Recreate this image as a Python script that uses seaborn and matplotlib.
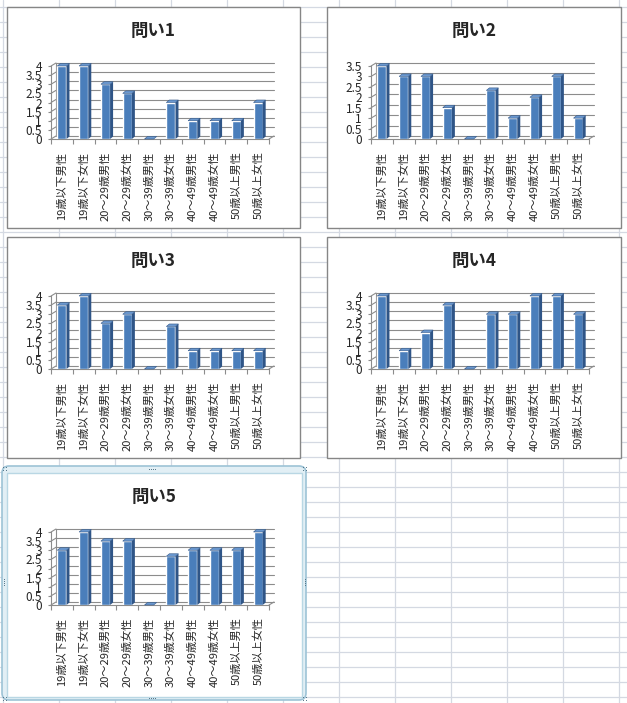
import matplotlib
matplotlib.use('Agg')
import matplotlib.pyplot as plt
import matplotlib.patches as patches
import numpy as np
import seaborn as sns

sns.set_style('white')
plt.rcParams['font.family'] = ['Noto Sans CJK JP', 'DejaVu Sans']

groups = ['19歳以下男性', '19歳以下女性', '20～29歳男性', '20～29歳女性', '30～39歳男性',
          '30～39歳女性', '40～49歳男性', '40～49歳女性', '50歳以上男性', '50歳以上女性']
titles = ['問い1', '問い2', '問い3', '問い4', '問い5']
q1 = [4, 4, 3, 2.5, 0, 2, 1, 1, 1, 2]
q2 = [3.5, 3, 3, 1.5, 0, 2.33, 1, 2, 3, 1]
q3 = [3.5, 4, 2.5, 3, 0, 2.33, 1, 1, 1, 1]
q4 = [4, 1, 2, 3.5, 0, 3, 3, 4, 4, 3]
q5 = [3, 4, 3.5, 3.5, 0, 2.67, 3, 3, 3, 4]
ymaxes = [4, 3.5, 4, 4, 4]

W, H = 627, 703
# chart boxes in pixels (left, top, right, bottom)
boxes = [(7, 7, 300, 228), (327, 7, 621, 228), (7, 237, 300, 458),
         (327, 237, 621, 458), (7, 473, 302, 697)]

fig = plt.figure(figsize=(W / 100, H / 100), dpi=100)
fig.patch.set_facecolor('white')

# spreadsheet background
bg = fig.add_axes([0, 0, 1, 1])
bg.set_xlim(0, W)
bg.set_ylim(H, 0)
bg.axis('off')
for y in np.arange(7.3, H, 15):
    bg.axhline(y, color='#D4D9E2', lw=0.9, zorder=0)
for x in np.arange(3.3, W, 56):
    bg.axvline(x, color='#D4D9E2', lw=0.9, zorder=0)

# selection frame round the last chart
bg.add_patch(patches.FancyBboxPatch((2, 466), 304, 234,
                                    boxstyle='round,pad=0,rounding_size=7',
                                    facecolor='#E2EFF5', edgecolor='#9DC3D6', lw=1.2, zorder=1))
handle_pts = []
for hx in [149, 151, 153, 155]:
    handle_pts += [(hx, 468.5), (hx, 697.5)]
for hy in [579, 581, 583, 585]:
    handle_pts += [(3.8, hy), (304.5, hy)]
for cx, cy in [(4, 468), (304, 468), (4, 698), (304, 698)]:
    handle_pts += [(cx - 1.5, cy - 1.5), (cx + 1.5, cy - 1.5), (cx - 1.5, cy + 1.5), (cx + 1.5, cy + 1.5)]
hx, hy = zip(*handle_pts)
bg.plot(hx, hy, ls='none', marker='s', ms=0.6, mew=0, color='#4E6F82', zorder=3)

series = [q1, q2, q3, q4, q5]
for i, (vals, title, ymax, box) in enumerate(zip(series, titles, ymaxes, boxes)):
    l, t, r, b = box
    ec = '#B9D7E4' if i == 4 else '#868686'
    bg.add_patch(patches.Rectangle((l, t), r - l, b - t, facecolor='white',
                                   edgecolor=ec, lw=1, zorder=2))
    fig.text((l + r) / 2 / W, 1 - (t + 24) / H, title, ha='center', va='center',
             fontsize=12.5, fontweight='bold')

    aw, ah = 218, 73
    ax = fig.add_axes([(l + 44) / W, 1 - (t + 132) / H, aw / W, ah / H])
    ax.patch.set_alpha(0)
    sns.barplot(x=groups, y=vals, ax=ax, color='#4A7EBB', saturation=1, width=0.42, zorder=3)
    ax.set_xlim(-0.5, 9.5)
    ax.set_ylim(0, ymax)

    sx = aw / 10
    sy = ah / ymax
    dxw, dyw = 5 / sx, 3 / sy
    dxb, dyb = 3 / sx, 2.5 / sy

    # back wall, side wall and floor
    for tv in np.arange(0, ymax + 0.01, 0.5):
        ax.plot([-0.5 + dxw, 9.5 + dxw], [tv + dyw, tv + dyw], color='#8C8C8C', lw=0.8,
                clip_on=False, zorder=1)
        ax.plot([-0.5, -0.5 + dxw], [tv, tv + dyw], color='#8C8C8C', lw=0.8,
                clip_on=False, zorder=1)
    ax.plot([-0.5 + dxw, -0.5 + dxw], [dyw, ymax + dyw], color='#8C8C8C', lw=0.8,
            clip_on=False, zorder=1)
    ax.plot([9.5, 9.5 + dxw], [0, dyw], color='#8C8C8C', lw=0.8, clip_on=False, zorder=1)

    # 3D faces of the columns
    for p in list(ax.patches):
        x0, w, h = p.get_x(), p.get_width(), p.get_height()
        side = [(x0 + w, 0), (x0 + w + dxb, dyb), (x0 + w + dxb, h + dyb), (x0 + w, h)]
        top = [(x0, h), (x0 + w, h), (x0 + w + dxb, h + dyb), (x0 + dxb, h + dyb)]
        ax.add_patch(patches.Polygon(side, closed=True, facecolor='#2F5587',
                                     edgecolor='none', clip_on=False, zorder=3))
        ax.add_patch(patches.Polygon(top, closed=True, facecolor='#6B98CF',
                                     edgecolor='#2F5587', lw=0.4, clip_on=False, zorder=3))

    for side_name in ['top', 'right']:
        ax.spines[side_name].set_visible(False)
    for side_name in ['left', 'bottom']:
        ax.spines[side_name].set_color('#8C8C8C')
        ax.spines[side_name].set_linewidth(0.8)

    ax.set_yticks(np.arange(0, ymax + 0.01, 0.5))
    ax.set_yticklabels(['%g' % v for v in np.arange(0, ymax + 0.01, 0.5)])
    ax.tick_params(axis='y', direction='out', length=2.5, width=0.8, color='#8C8C8C',
                   pad=4, labelsize=8.5, left=True)
    ax.set_xticks(range(10))
    ax.set_xticklabels(groups, rotation=90, fontsize=8)
    ax.set_xticks(np.arange(-0.5, 10, 1), minor=True)
    ax.tick_params(axis='x', which='major', length=0, pad=9)
    ax.tick_params(axis='x', which='minor', direction='out', length=3.5, width=0.8,
                   color='#8C8C8C', bottom=True)
    ax.set_xlabel('')
    ax.set_ylabel('')

fig.savefig('out.png', dpi=100)
